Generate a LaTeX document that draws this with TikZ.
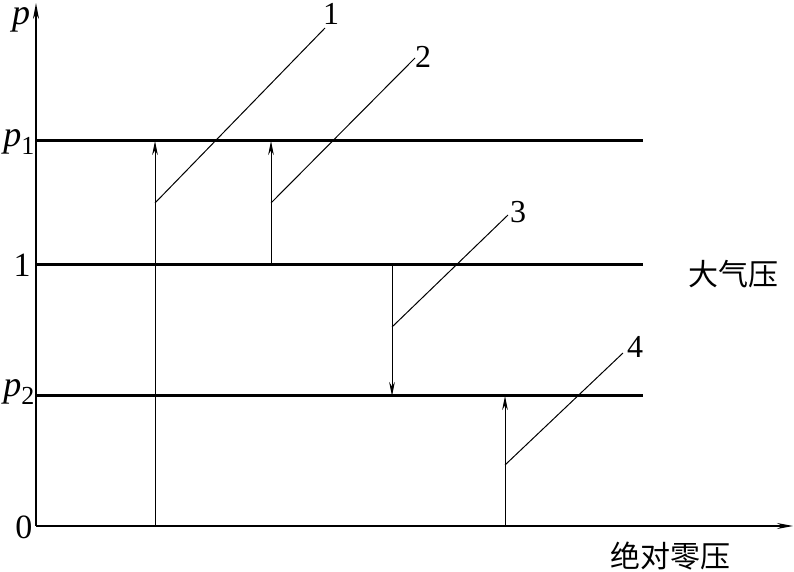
\documentclass[tikz,border=0pt]{standalone}
\usepackage{fontspec}
\setmainfont{Liberation Serif}
\newfontfamily\cjk{Noto Sans CJK SC}
\usetikzlibrary{arrows.meta}

\newcommand{\pres}[1]{\textit{p}\raisebox{-0.5ex}{\fontsize{13}{13}\selectfont #1}}

\begin{document}
\begin{tikzpicture}[x=0.5pt, y=-0.5pt,
    level/.style={line width=1.5pt},
    gauge/.style={line width=0.5pt, -{Stealth[length=7pt, width=2.8pt]}},
    leader/.style={line width=0.5pt},
    num/.style={font=\fontsize{16}{16}\selectfont, inner sep=0pt},
    word/.style={font=\cjk\fontsize{15}{15}\selectfont, inner sep=0pt},
]
\useasboundingbox (0,0) rectangle (794,572);
% axes
\coordinate (O) at (36,526);
\coordinate (ytop) at (36,3);
\coordinate (xend) at (793,526);
\draw[line width=1pt, -{Stealth[length=8pt, width=3pt]}] (O) -- (ytop);
\draw[line width=0.6pt, -{Stealth[length=8pt, width=3pt]}] (O) -- (xend);
% pressure levels
\foreach \n/\y in {hi/141, atm/265, lo/396} {
  \coordinate (\n-l) at (36,\y);
  \coordinate (\n-r) at (643,\y);
  \draw[level] (\n-l) -- (\n-r);
}
\node[num, font=\fontsize{18}{18}\selectfont] (lp) at (21,20) {\textit{p}};
\node[num, font=\fontsize{18}{18}\selectfont] (lp1) at (19,142) {\pres{1}};
\node[num, font=\fontsize{17}{17}\selectfont] (l1) at (22,265) {1};
\node[num, font=\fontsize{18}{18}\selectfont] (lp2) at (19,392) {\pres{2}};
\node[num, font=\fontsize{17}{17}\selectfont] (l0) at (24,527) {0};
\node[word] (atm)  at (733,274) {大气压};
\node[word] (zero) at (670,556) {绝对零压};
% gauge arrows
\coordinate (g1b) at (155,526); \coordinate (g1t) at (155,141);
\coordinate (g2b) at (271,265); \coordinate (g2t) at (271,141);
\coordinate (g3b) at (392,265); \coordinate (g3t) at (392,396);
\coordinate (g4b) at (505,526); \coordinate (g4t) at (505,396);
\foreach \i in {1,...,4} {
  \draw[gauge] (g\i b) -- (g\i t);
}
% leaders
\foreach \i/\sx/\sy/\ex/\ey/\lx/\ly in {1/155/203/325/28/331/14, 2/271/203/415/58/423/57,
    3/392/327/508/215/518/212, 4/505/465/623/353/635/347} {
  \coordinate (s\i) at (\sx,\sy);
  \coordinate (e\i) at (\ex,\ey);
  \node[num] (n\i) at (\lx,\ly) {\i};
  \draw[leader] (s\i) -- (e\i);
}
\end{tikzpicture}
\end{document}
